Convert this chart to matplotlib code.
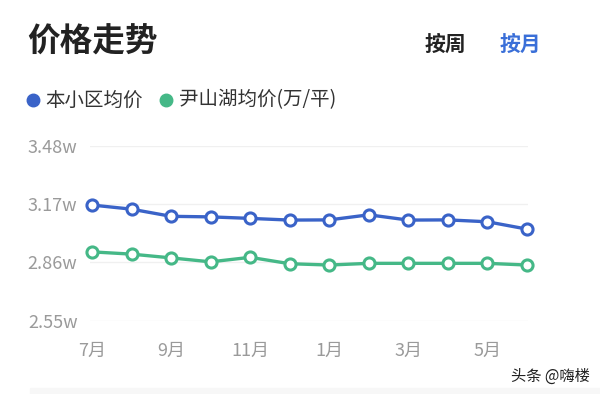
import matplotlib.pyplot as plt
from matplotlib.patches import Rectangle

plt.rcParams['font.family'] = ['Noto Sans CJK SC', 'DejaVu Sans']

months = ['7月', '8月', '9月', '10月', '11月', '12月', '1月', '2月', '3月', '4月', '5月', '6月']
community = [3.165, 3.143, 3.105, 3.102, 3.094, 3.085, 3.086, 3.113, 3.085, 3.086, 3.076, 3.037]
district = [2.916, 2.904, 2.884, 2.863, 2.887, 2.853, 2.846, 2.855, 2.855, 2.855, 2.855, 2.846]
yticks = [2.55, 2.86, 3.17, 3.48]

blue = '#3a63c8'
green = '#45b887'
grey = '#9a9a9a'

fig = plt.figure(figsize=(6, 3.94), dpi=100)
ax = fig.add_axes([0.15, 0.186, 0.73, 0.444])

x = list(range(len(months)))
for vals, c in [(community, blue), (district, green)]:
    ax.plot(x, vals, color=c, lw=2.4, marker='o', ms=8, mfc='white',
            mec=c, mew=2.2, zorder=3, clip_on=False)

ax.set_xlim(-0.05, 11.025)
ax.set_ylim(2.55, 3.48)
ax.set_yticks(yticks)
ax.set_yticklabels([f'{v:.2f}w' for v in yticks])
ax.set_xticks(x[::2])
ax.set_xticklabels(months[::2])
ax.tick_params(length=0, colors=grey, labelsize=13)
ax.tick_params(axis='x', pad=15)
ax.tick_params(axis='y', pad=9)
ax.grid(axis='y', color='#f0f0f0', lw=1)
ax.set_axisbelow(True)
for s in ax.spines.values():
    s.set_visible(False)

# header
fig.text(27 / 600, 1 - 42 / 394, '价格走势', fontsize=23.5, fontweight='bold',
         color='#222222', va='center', ha='left')
fig.text(425 / 600, 1 - 44 / 394, '按周', fontsize=15, fontweight='bold',
         color='#222222', va='center', ha='left')
fig.text(500 / 600, 1 - 44 / 394, '按月', fontsize=15, fontweight='bold',
         color='#3a6fd8', va='center', ha='left')

# legend
ly = 1 - 100 / 394
fig.lines.append(plt.Line2D([33 / 600], [ly], marker='o', ms=9, color=blue,
                            transform=fig.transFigure))
fig.text(45 / 600, ly, '本小区均价', fontsize=14, color='#333333', va='center')
fig.lines.append(plt.Line2D([166 / 600], [ly], marker='o', ms=9, color=green,
                            transform=fig.transFigure))
fig.text(179 / 600, ly, '尹山湖均价(万/平)', fontsize=14, color='#333333', va='center')

# watermark + bottom strip
fig.patches.append(Rectangle((30 / 600, 0), 570 / 600, 6 / 394, transform=fig.transFigure,
                             color='#f7f7f7', zorder=0))
fig.text(590 / 600, 1 - 376 / 394, '头条 @嗨楼', fontsize=11, color='#222222',
         va='center', ha='right')

fig.savefig('out.png', dpi=100)
